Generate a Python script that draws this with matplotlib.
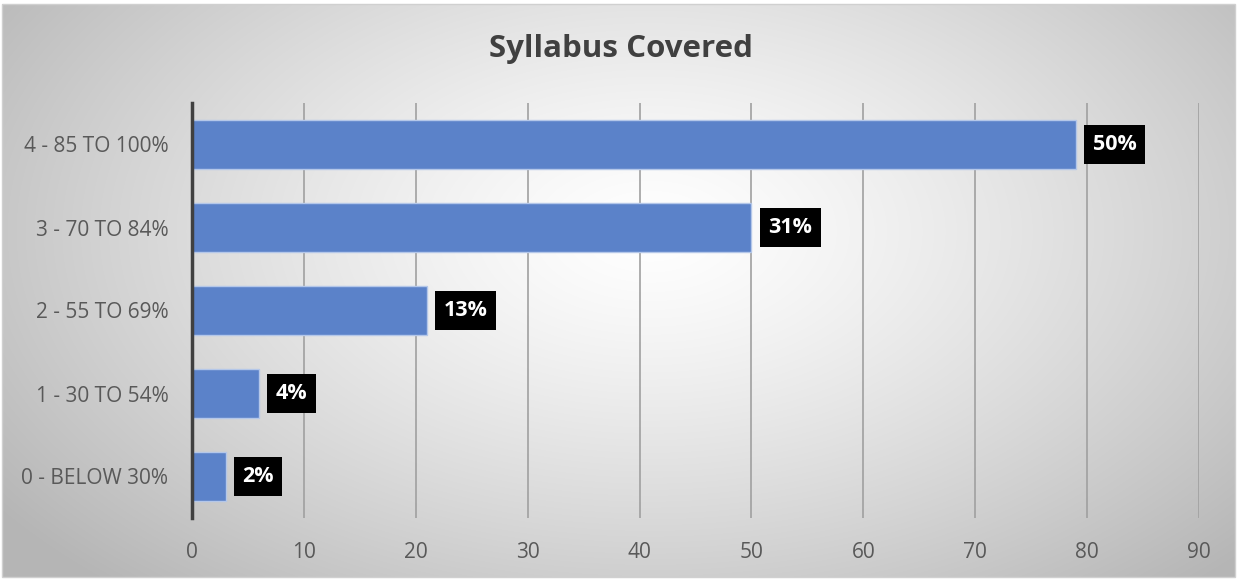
import numpy as np
import matplotlib.pyplot as plt
from matplotlib.patches import Rectangle

categories = ["0 - BELOW 30%", "1 - 30 TO 54%", "2 - 55 TO 69%", "3 - 70 TO 84%", "4 - 85 TO 100%"]
values = [3, 6, 21, 50, 79]
labels = ["2%", "4%", "13%", "31%", "50%"]
xticks = [0, 10, 20, 30, 40, 50, 60, 70, 80, 90]

plt.rcParams['font.family'] = ['Open Sans', 'DejaVu Sans']

W, H = 1237, 580
fig = plt.figure(figsize=(W/100, H/100), dpi=100)

# background gradient
bg = fig.add_axes([0, 0, 1, 1], zorder=-10)
bg.set_xlim(0, W); bg.set_ylim(H, 0); bg.axis('off')
yy, xx = np.mgrid[0:H, 0:W]
cx, cy = 650, 230
r = np.sqrt(((xx - cx) / 700.0) ** 2 + ((yy - cy) / 420.0) ** 2)
g = np.clip(1.0 - 0.24 * np.clip(r, 0, 1.15) ** 1.3, 0, 1)
img = np.dstack([g, g, g])
bg.imshow(img, extent=[2, 1235, 577, 4], aspect='auto', interpolation='bilinear')
bg.add_patch(Rectangle((2, 4), 1233, 573, fill=False, edgecolor='#d0d0d0', lw=1))

left, right, top, bottom = 192, 1199, 103, 518
ax = fig.add_axes([left/W, 1 - bottom/H, (right-left)/W, (bottom-top)/H])
ax.set_facecolor('none')
y = np.arange(len(categories))
ax.barh(y, values, height=0.58, color='#5b82c9', edgecolor='#b4c7e9', linewidth=1, zorder=3)
ax.set_xlim(0, 90)
ax.set_ylim(-0.5, len(categories) - 0.5)
ax.set_xticks(xticks)
ax.set_yticks(y)
ax.set_yticklabels(categories)
ax.tick_params(axis='both', length=0, labelsize=15, colors='#595959')
ax.tick_params(axis='x', pad=17)
ax.tick_params(axis='y', pad=17)
ax.xaxis.grid(True, color='#a0a0a0', lw=1.2, zorder=0)
for s in ['top', 'right', 'bottom']:
    ax.spines[s].set_visible(False)
ax.spines['left'].set_color('#404040')
ax.spines['left'].set_linewidth(2.5)
ax.spines['left'].set_zorder(4)

for yi, v, lab in zip(y, values, labels):
    ax.annotate(lab, (v, yi), xytext=(12, 0), textcoords='offset points',
                ha='left', va='center', color='white', fontsize=15.5, fontweight='bold',
                bbox=dict(boxstyle='square,pad=0.4', fc='black', ec='none'), zorder=5)

fig.text(621/W, 1 - 49/H, "Syllabus Covered", ha='center', va='center',
         fontsize=22.5, fontweight='bold', color='#404040')

fig.savefig('out.png', dpi=100)
